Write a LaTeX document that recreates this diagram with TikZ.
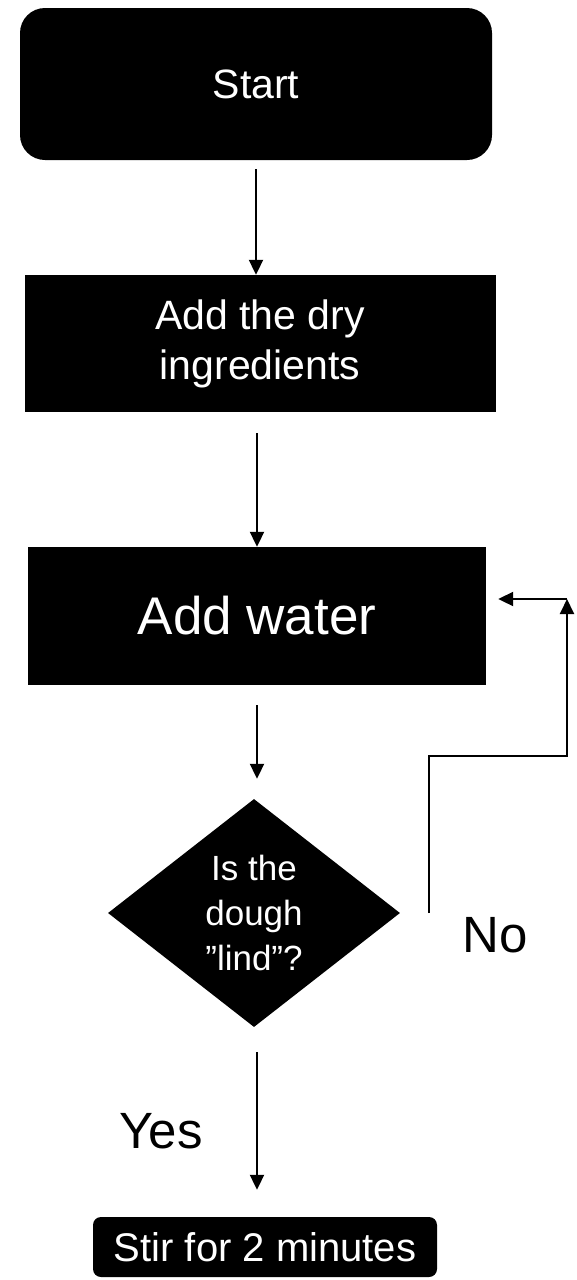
\documentclass[tikz,border=0pt]{standalone}
\usepackage{fontspec}
\setmainfont{Liberation Sans}
\usetikzlibrary{shapes.geometric,arrows.meta}
\begin{document}
\begin{tikzpicture}[x=1pt,y=-1pt,
  blk/.style={fill=black,text=white,draw=none,inner sep=0pt,align=center},
  arr/.style={line width=2pt,-{Triangle[length=15pt,width=14pt]}},
  lbl/.style={text=black,inner sep=0pt,anchor=base,font=\fontsize{51}{60}\selectfont}]
\useasboundingbox (0,0) rectangle (577,1280);
\node[blk,rounded corners=25pt,minimum width=472pt,minimum height=152pt,font=\fontsize{41}{50}\selectfont] (start) at (256,84) {Start};
\node[blk,minimum width=471pt,minimum height=137pt,font=\fontsize{41}{50}\selectfont] (dry) at (260,343.5) {Add the dry\\ingredients};
\node[blk,minimum width=458pt,minimum height=138pt,font=\fontsize{53}{60}\selectfont] (water) at (257,616) {Add water};
\node[blk,diamond,aspect=1.28,minimum width=292pt,minimum height=228pt,font=\fontsize{35}{45}\selectfont] (dec) at (254,913) {Is the\\dough\\”lind”?};
\node[blk,rounded corners=8pt,minimum width=344pt,minimum height=60pt,font=\fontsize{40}{48}\selectfont] (stir) at (265,1247) {Stir for 2 minutes};
\node[lbl] (no) at (495,952) {No};
\node[lbl] (yes) at (161,1148) {Yes};
\coordinate (lp1) at (567,756);
\coordinate (lp2) at (567,599);
\draw[arr,shorten <=9pt] (start.south) -- (start.south |- dry.north);
\draw[arr,shorten <=21pt] (dry.south -| water.north) -- (water.north);
\draw[arr,shorten <=20pt,shorten >=20pt] (water.south) -- (water.south |- dec.north);
\draw[arr,shorten <=25pt,shorten >=27pt] (dec.south -| water.south) -- (water.south |- stir.north);
\draw[arr] ([xshift=29pt]dec.east) |- (lp1) -- (lp2);
\draw[arr] (lp2) -- ([xshift=12pt]water.east |- lp2);
\end{tikzpicture}
\end{document}
